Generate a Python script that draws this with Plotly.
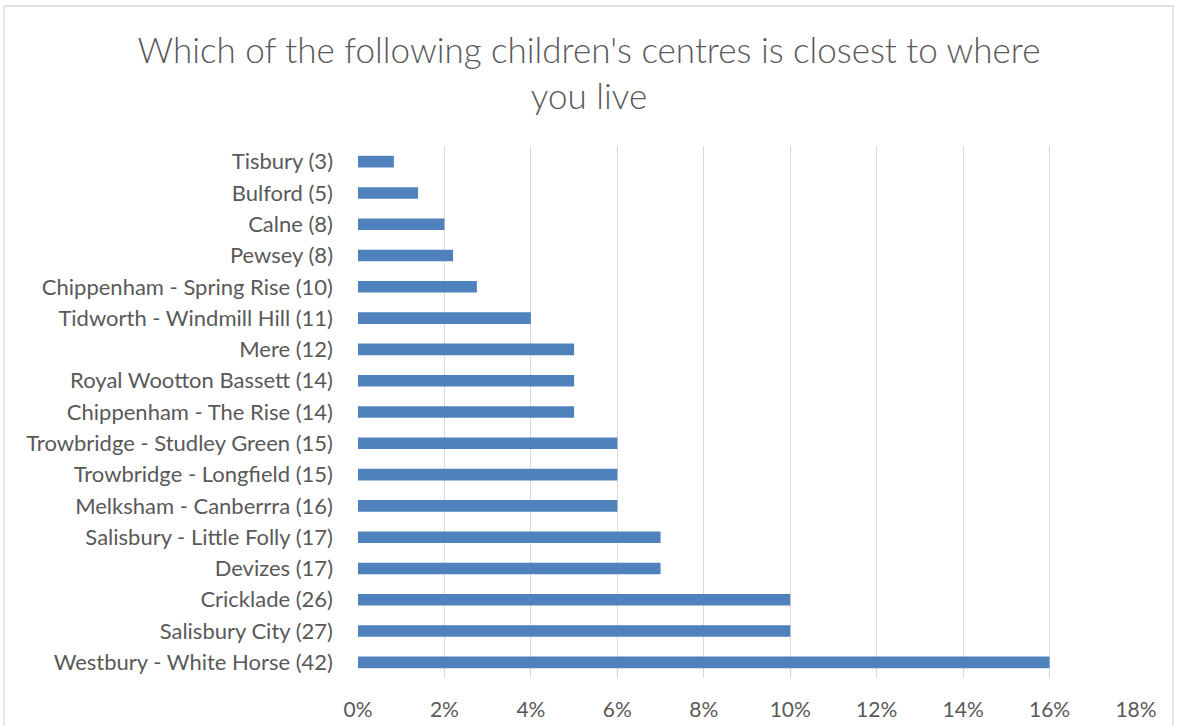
import plotly.graph_objects as go

categories = [
    "Tisbury (3)", "Bulford (5)", "Calne (8)", "Pewsey (8)",
    "Chippenham - Spring Rise (10)", "Tidworth - Windmill Hill (11)", "Mere (12)",
    "Royal Wootton Bassett (14)", "Chippenham - The Rise (14)",
    "Trowbridge - Studley Green (15)", "Trowbridge - Longfield (15)",
    "Melksham - Canberrra (16)", "Salisbury - Little Folly (17)", "Devizes (17)",
    "Cricklade (26)", "Salisbury City (27)", "Westbury - White Horse (42)",
]
values = [0.0083, 0.0139, 0.020, 0.022, 0.0275, 0.040, 0.050, 0.050, 0.050,
          0.060, 0.060, 0.060, 0.070, 0.070, 0.100, 0.100, 0.160]
x_ticks = [0, 0.02, 0.04, 0.06, 0.08, 0.10, 0.12, 0.14, 0.16, 0.18]

title_text = "Which of the following children's centres is closest to where<br>you live"

W, H = 1178, 726
ml, mr, mt, mb = 358, 42, 146, 48
pw, ph = W - ml - mr, H - mt - mb

fig = go.Figure(go.Bar(
    x=values, y=categories, orientation="h",
    marker=dict(color="#4F81BD", line=dict(width=0)),
    width=0.37,
))

fig.update_layout(
    width=W, height=H,
    margin=dict(l=ml, r=mr, t=mt, b=mb, pad=0, autoexpand=False),
    paper_bgcolor="white", plot_bgcolor="white",
    font=dict(family="Lato, Open Sans, sans-serif", color="#595959", size=22),
    title=dict(text=title_text, x=0.5, xanchor="center", y=1 - 63 / H, yanchor="middle",
               font=dict(size=35, color="#595959", weight=300)),
    showlegend=False,
)
fig.update_xaxes(
    range=[0, 0.18], tickvals=x_ticks, tickformat=".0%",
    showgrid=True, gridcolor="#D9D9D9", gridwidth=1.3,
    zeroline=False, showline=False, ticks="", automargin=False,
    ticklabelstandoff=17,
    tickfont=dict(size=21, color="#595959"),
)
fig.update_yaxes(
    categoryorder="array", categoryarray=categories,
    autorange="reversed", showgrid=False, zeroline=False, showline=False,
    ticks="", ticklabelstandoff=24, automargin=False,
    tickfont=dict(size=22, color="#595959"),
)

# chart border
fig.add_shape(type="rect", xref="paper", yref="paper",
              x0=(4 - ml) / pw, x1=(1173 - ml) / pw,
              y0=(H - mb - 740) / ph, y1=(H - mb - 6) / ph,
              line=dict(color="#D9D9D9", width=1.3), fillcolor="rgba(0,0,0,0)", layer="below")

fig.write_html("out.html", config={"displayModeBar": False},
               post_script="document.body.style.margin='0';")
